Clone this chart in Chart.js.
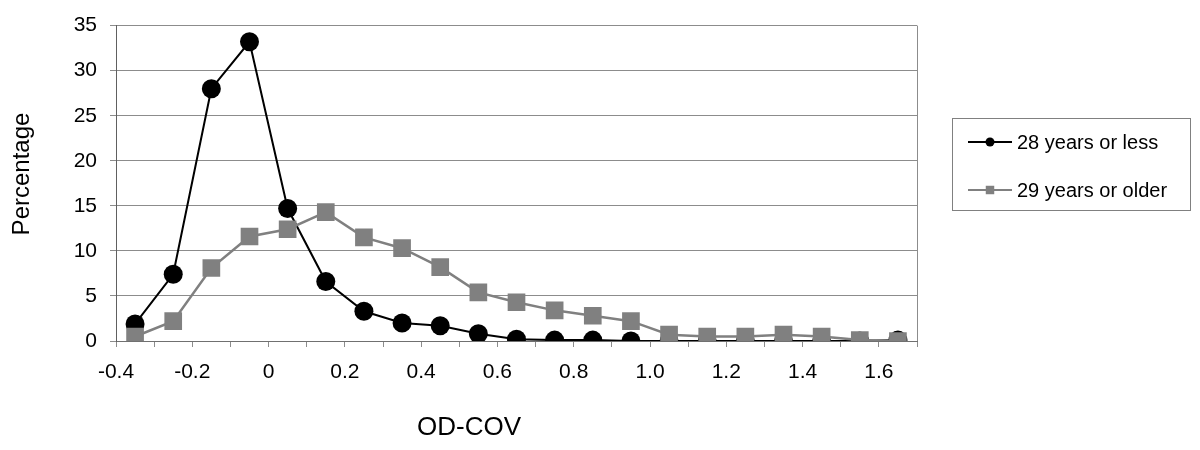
<!DOCTYPE html>
<html>
<head>
<meta charset="utf-8">
<script src="https://cdn.jsdelivr.net/npm/chart.js@4.4.1/dist/chart.umd.min.js"></script>
<style>
  html, body { margin: 0; padding: 0; background: #fff; }
  #wrap { width: 1200px; height: 450px; position: relative; }
</style>
</head>
<body>
<div id="wrap"><canvas id="odcov-chart"></canvas></div>
<script>
// x positions (bin centres of OD-COV)
const xValues = [-0.35, -0.25, -0.15, -0.05, 0.05, 0.15, 0.25, 0.35, 0.45, 0.55,
  0.65, 0.75, 0.85, 0.95, 1.05, 1.15, 1.25, 1.35, 1.45, 1.55, 1.65];

// percentage per bin
const youngValues = [1.9, 7.4, 28.0, 33.2, 14.7, 6.6, 3.3, 2.0, 1.7, 0.8,
  0.2, 0.1, 0.1, 0.0, 0.0, 0.0, 0.0, 0.0, 0.0, 0.0, 0.1];
const olderValues = [0.5, 2.2, 8.1, 11.6, 12.4, 14.3, 11.5, 10.3, 8.2, 5.4,
  4.3, 3.4, 2.8, 2.2, 0.7, 0.5, 0.5, 0.7, 0.5, 0.1, 0.0];

const seriesNames = ["28 years or less", "29 years or older"];
const xTickLabels = ["-0.4", "-0.2", "0", "0.2", "0.4", "0.6", "0.8", "1.0", "1.2", "1.4", "1.6"];
const yTickLabels = ["0", "5", "10", "15", "20", "25", "30", "35"];
const xTitle = "OD-COV";
const yTitle = "Percentage";

const FONT = 'Arial, "Liberation Sans", sans-serif';
const GRID = "#8c8c8c";

function toPoints(ys) {
  return xValues.map((x, i) => ({ x: x, y: ys[i] }));
}

// axis titles + boxed legend (line + marker) like the original
const boxLegend = {
  id: "boxLegend",
  afterDraw(chart) {
    const ctx = chart.ctx;
    const area = chart.chartArea;
    ctx.save();
    // right border of plot area
    ctx.strokeStyle = GRID;
    ctx.lineWidth = 1;
    ctx.beginPath();
    ctx.moveTo(Math.round(area.right) + 0.5, area.top);
    ctx.lineTo(Math.round(area.right) + 0.5, area.bottom);
    ctx.stroke();

    // titles
    ctx.fillStyle = "#000";
    ctx.textAlign = "center";
    ctx.textBaseline = "middle";
    ctx.font = "26px " + FONT;
    ctx.fillText(xTitle, 469, 428);
    ctx.save();
    ctx.translate(22, 174);
    ctx.rotate(-Math.PI / 2);
    ctx.font = "24px " + FONT;
    ctx.fillText(yTitle, 0, 0);
    ctx.restore();

    // legend box
    ctx.strokeStyle = "#808080";
    ctx.lineWidth = 1;
    ctx.strokeRect(952.5, 118.5, 238, 92);
    const rows = [142, 190];
    chart.data.datasets.forEach((ds, i) => {
      const y = rows[i];
      ctx.strokeStyle = ds.borderColor;
      ctx.lineWidth = 2;
      ctx.beginPath();
      ctx.moveTo(968, y);
      ctx.lineTo(1012, y);
      ctx.stroke();
      ctx.fillStyle = ds.pointBackgroundColor;
      ctx.strokeStyle = ds.pointBorderColor;
      Chart.helpers.drawPoint(ctx, {
        pointStyle: ds.pointStyle,
        radius: ds.pointStyle === "rect" ? 6 : 4.5,
        rotation: 0,
        borderWidth: 0
      }, 990, y);
      ctx.fillStyle = "#000";
      ctx.font = "20px " + FONT;
      ctx.textBaseline = "middle";
      ctx.textAlign = "left";
      ctx.fillText(ds.label, 1017, y + 1);
    });
    ctx.restore();
  }
};

const ctx = document.getElementById("odcov-chart").getContext("2d");
const odcovChart = new Chart(ctx, {
  type: "line",
  data: {
    datasets: [
      {
        label: seriesNames[0],
        data: toPoints(youngValues),
        borderColor: "#000000",
        borderWidth: 2,
        pointStyle: "circle",
        pointRadius: 9.5,
        pointBackgroundColor: "#000000",
        pointBorderColor: "#000000",
        pointBorderWidth: 0,
        order: 1
      },
      {
        label: seriesNames[1],
        data: toPoints(olderValues),
        borderColor: "#808080",
        borderWidth: 2.5,
        pointStyle: "rect",
        pointRadius: 12.5,
        pointBackgroundColor: "#808080",
        pointBorderColor: "#808080",
        pointBorderWidth: 0,
        order: 0
      }
    ]
  },
  options: {
    responsive: true,
    maintainAspectRatio: false,
    animation: false,
    layout: { padding: { left: 0, right: 283, top: 22, bottom: 0 } },
    plugins: {
      legend: { display: false },
      tooltip: { enabled: false }
    },
    scales: {
      x: {
        type: "linear",
        min: -0.4,
        max: 1.7,
        afterFit: (scale) => { scale.height = 109; },
        grid: {
          drawOnChartArea: false,
          drawTicks: true,
          tickLength: 6,
          color: GRID
        },
        border: { color: "#707070", width: 1 },
        ticks: {
          stepSize: 0.1,
          autoSkip: false,
          maxRotation: 0,
          padding: 13,
          color: "#000",
          font: { family: FONT, size: 21 },
          callback: (v) => {
            const k = Math.round(v * 10) + 4;
            return k % 2 === 0 && k / 2 < xTickLabels.length ? xTickLabels[k / 2] : "";
          }
        }
      },
      y: {
        min: 0,
        max: 35,
        afterFit: (scale) => { scale.width = 116; },
        grid: {
          color: GRID,
          drawTicks: true,
          tickLength: 6
        },
        border: { color: "#606060", width: 1 },
        ticks: {
          stepSize: 5,
          padding: 13,
          color: "#000",
          font: { family: FONT, size: 21 },
          callback: (v) => yTickLabels[Math.round(v / 5)]
        }
      }
    }
  },
  plugins: [boxLegend]
});
</script>
</body>
</html>
